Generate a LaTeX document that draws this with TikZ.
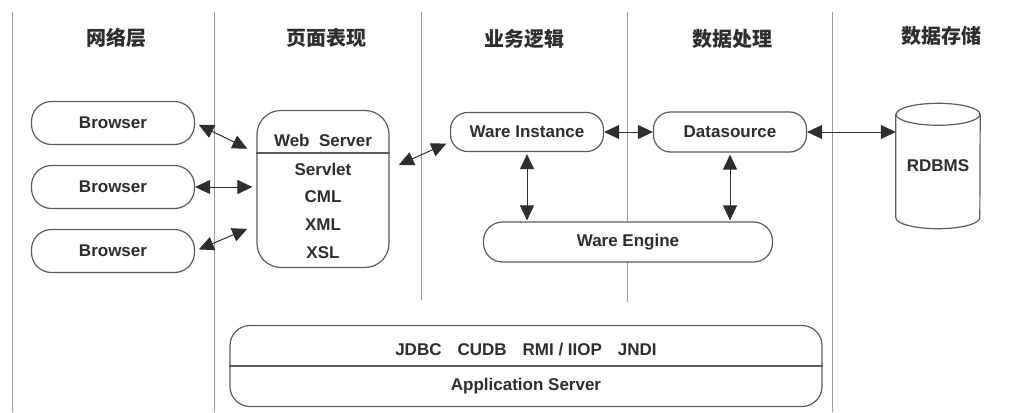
\documentclass[tikz,border=0pt]{standalone}
\usepackage{fontspec}
\setmainfont{Liberation Sans}
\newfontfamily\cjk{Noto Sans CJK SC}
\usepackage{tikz}
\usetikzlibrary{arrows.meta}
\definecolor{lanegray}{HTML}{9A9A9A}
\definecolor{boxgray}{HTML}{5C5C5C}
\definecolor{inkgray}{HTML}{2E2E2E}

\begin{document}
\begin{tikzpicture}[x=1pt, y=-1pt,
    box/.style={draw=boxgray, line width=1.2pt, rounded corners=#1, fill=white,
        font=\fontsize{17}{20}\selectfont\bfseries, text=inkgray},
    box/.default=18pt,
    lbl/.style={font=\fontsize{17}{20}\selectfont\bfseries, text=inkgray, inner sep=0pt},
    head/.style={font=\cjk\fontsize{20}{24}\selectfont\bfseries, text=inkgray},
    lane/.style={draw=lanegray, line width=1pt},
    link/.style={draw=inkgray, line width=1pt,
        {Triangle[length=15pt,width=14pt]}-{Triangle[length=15pt,width=14pt]}}]
    \useasboundingbox (0,0) rectangle (1024,412);

% draw lane lines
    \draw[lane] (12,12) -- (12,412);
    \draw[lane] (214,12) -- (214,412);
    \draw[lane] (421,12) -- (421,300);
    \draw[lane] (627,12) -- (627,302);
    \draw[lane] (832,12) -- (832,412);

% lane headers
    \node[head] (hnet) at (116,38) {网络层};
    \node[head] (hpage) at (326,38) {页面表现};
    \node[head] (hlogic) at (524,39) {业务逻辑};
    \node[head] (hproc) at (732,39) {数据处理};
    \node[head] (hstore) at (941,36) {数据存储};

% browsers
    \node[box=20pt, minimum width=163pt, minimum height=43pt] (b1) at (113,123) {Browser};
    \node[box=20pt, minimum width=163pt, minimum height=43pt] (b2) at (113,187) {Browser};
    \node[box=20pt, minimum width=163pt, minimum height=43pt] (b3) at (113,251) {Browser};

% web server box
    \node[box=24pt, minimum width=132pt, minimum height=157pt] (ws) at (323,189) {};
    \node[lbl] (wstitle) at (323,140) {Web\ \ Server};
    \coordinate (wsdiv) at (323,153);
    \draw[boxgray, line width=1.2pt] (ws.west |- wsdiv) -- (ws.east |- wsdiv);
    \node[lbl] (servlet) at (323,169) {Servlet};
    \node[lbl] (cml) at (323,197) {CML};
    \node[lbl] (xml) at (323,225) {XML};
    \node[lbl] (xsl) at (323,253) {XSL};

% logic and data boxes
    \node[box=17pt, minimum width=153pt, minimum height=39pt] (wi) at (527,132) {Ware Instance};
    \node[box=17pt, minimum width=153pt, minimum height=40pt] (ds) at (730,132) {Datasource};
    \node[box=19pt, minimum width=289pt, minimum height=40pt] (we) at (628,242) {Ware Engine};

% database cylinder
    \node[lbl, minimum width=84pt, minimum height=125pt] (db) at (938,166) {RDBMS};
    \draw[boxgray, line width=1.2pt] ([yshift=-11pt]db.north) ellipse (42pt and 11pt);
    \draw[boxgray, line width=1.2pt] ([yshift=-11pt]db.north west) -- ([yshift=11pt]db.south west)
        arc (180:360:42pt and 11pt) -- ([yshift=-11pt]db.north east);

% application server
    \node[box=20pt, minimum width=592pt, minimum height=81pt] (as) at (526,366) {};
    \draw[boxgray, line width=1.2pt] (as.west) -- (as.east);
    \node[lbl] (protocols) at (526,350) {JDBC\hspace{16pt}CUDB\hspace{16pt}RMI / IIOP\hspace{16pt}JNDI};
    \node[lbl] (appserver) at (526,386) {Application Server};

% connectors
    \draw[link, shorten <=4pt, shorten >=10pt] (b1.east) -- (ws.west |- wsdiv);
    \draw[link, shorten >=4pt] (b2.east) -- (ws.west |- b2);
    \draw[link, shorten <=4pt, shorten >=10pt] (b3.east) -- (ws.west |- xml);
    \draw[link, shorten <=10pt, shorten >=4pt] (ws.east |- servlet) -- ([yshift=-10pt]wi.west);
    \draw[link] (wi.east) -- (ds.west);
    \draw[link] (ds.east) -- (db.west |- ds);
    \draw[link, shorten <=2pt, shorten >=1pt] (wi.south) -- (wi.south |- we.north);
    \draw[link, shorten <=2pt, shorten >=1pt] (ds.south) -- (ds.south |- we.north);
\end{tikzpicture}
\end{document}
